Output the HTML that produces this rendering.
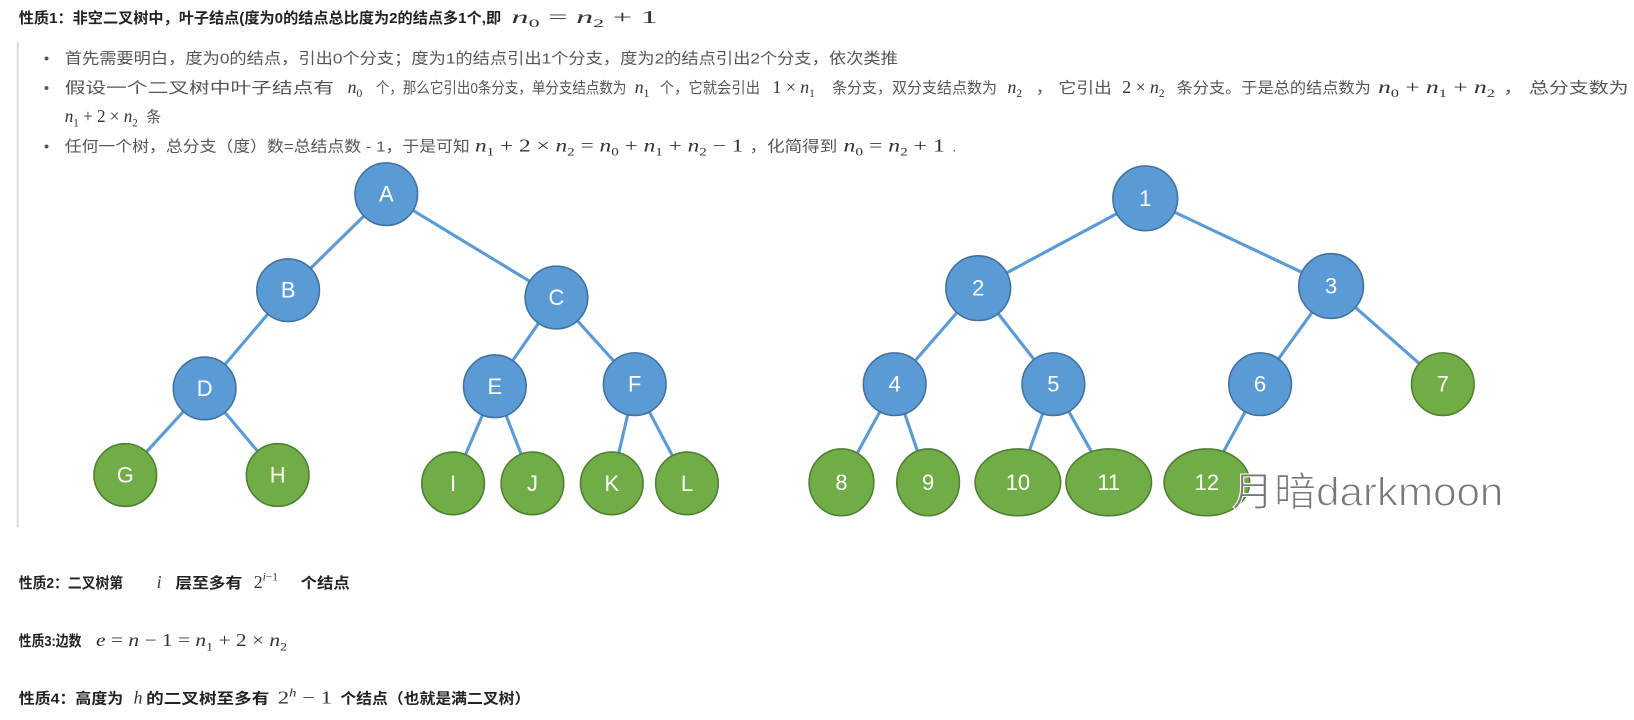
<!DOCTYPE html>
<html><head><meta charset="utf-8"><style>
html,body{margin:0;padding:0;background:#fff;width:1634px;height:720px;overflow:hidden}
svg{display:block}
.t{font-family:"Liberation Sans","Noto Sans CJK SC",sans-serif;font-size:14.5px;fill:#555}
.b{font-family:"Liberation Sans","Noto Sans CJK SC",sans-serif;font-size:14px;font-weight:bold;fill:#222}
.m{font-family:"Liberation Serif",serif;font-size:17px;fill:#333}
.mi{font-style:italic}
.n{font-family:"Liberation Sans",sans-serif;font-size:21px;fill:#fff;text-anchor:middle;dominant-baseline:central}
</style></head><body>
<svg width="1634" height="720" xmlns="http://www.w3.org/2000/svg">
<g transform="scale(1.044)">
<text x="18" y="22" class="b" textLength="462" lengthAdjust="spacingAndGlyphs">性质1：非空二叉树中，叶子结点(度为0的结点总比度为2的结点多1个,即</text>
<text x="490" y="22" class="m" textLength="140" lengthAdjust="spacingAndGlyphs"><tspan class="mi">n</tspan><tspan font-size="11" dy="4">0</tspan><tspan dy="-4"> = </tspan><tspan class="mi">n</tspan><tspan font-size="11" dy="4">2</tspan><tspan dy="-4"> + 1</tspan></text>
<rect x="16" y="40" width="2" height="465" fill="#ddd"/>

<text x="42" y="61" class="t">•</text>
<text x="62" y="61" class="t" textLength="798" lengthAdjust="spacingAndGlyphs">首先需要明白，度为0的结点，引出0个分支；度为1的结点引出1个分支，度为2的结点引出2个分支，依次类推</text>

<text x="42" y="89" class="t">•</text>
<text x="62" y="89" class="t" textLength="258" lengthAdjust="spacingAndGlyphs">假设一个二叉树中叶子结点有</text>
<text x="333" y="89" class="m"><tspan class="mi">n</tspan><tspan font-size="11" dy="4">0</tspan></text>
<text x="360" y="89" class="t" textLength="240" lengthAdjust="spacingAndGlyphs">个，那么它引出0条分支，单分支结点数为</text>
<text x="608" y="89" class="m"><tspan class="mi">n</tspan><tspan font-size="11" dy="4">1</tspan></text>
<text x="632" y="89" class="t" textLength="96" lengthAdjust="spacingAndGlyphs">个，它就会引出</text>
<text x="740" y="89" class="m">1 × <tspan class="mi">n</tspan><tspan font-size="11" dy="4">1</tspan></text>
<text x="797" y="89" class="t" textLength="158" lengthAdjust="spacingAndGlyphs">条分支，双分支结点数为</text>
<text x="965" y="89" class="m"><tspan class="mi">n</tspan><tspan font-size="11" dy="4">2</tspan></text>
<text x="992" y="89" class="t" textLength="73" lengthAdjust="spacingAndGlyphs">， 它引出</text>
<text x="1075" y="89" class="m">2 × <tspan class="mi">n</tspan><tspan font-size="11" dy="4">2</tspan></text>
<text x="1127" y="89" class="t" textLength="186" lengthAdjust="spacingAndGlyphs">条分支。于是总的结点数为</text>
<text x="1320" y="89" class="m" textLength="112" lengthAdjust="spacingAndGlyphs"><tspan class="mi">n</tspan><tspan font-size="11" dy="4">0</tspan><tspan dy="-4"> + </tspan><tspan class="mi">n</tspan><tspan font-size="11" dy="4">1</tspan><tspan dy="-4"> + </tspan><tspan class="mi">n</tspan><tspan font-size="11" dy="4">2</tspan></text>
<text x="1440" y="89" class="t" textLength="120" lengthAdjust="spacingAndGlyphs">， 总分支数为</text>
<text x="62" y="117" class="m" textLength="70" lengthAdjust="spacingAndGlyphs"><tspan class="mi">n</tspan><tspan font-size="11" dy="4">1</tspan><tspan dy="-4"> + 2 × </tspan><tspan class="mi">n</tspan><tspan font-size="11" dy="4">2</tspan></text>
<text x="140" y="117" class="t">条</text>

<text x="42" y="145" class="t">•</text>
<text x="62" y="145" class="t" textLength="388" lengthAdjust="spacingAndGlyphs">任何一个树，总分支（度）数=总结点数 - 1，于是可知</text>
<text x="455" y="145" class="m" textLength="257" lengthAdjust="spacingAndGlyphs"><tspan class="mi">n</tspan><tspan font-size="11" dy="4">1</tspan><tspan dy="-4"> + 2 × </tspan><tspan class="mi">n</tspan><tspan font-size="11" dy="4">2</tspan><tspan dy="-4"> = </tspan><tspan class="mi">n</tspan><tspan font-size="11" dy="4">0</tspan><tspan dy="-4"> + </tspan><tspan class="mi">n</tspan><tspan font-size="11" dy="4">1</tspan><tspan dy="-4"> + </tspan><tspan class="mi">n</tspan><tspan font-size="11" dy="4">2</tspan><tspan dy="-4"> − 1</tspan></text>
<text x="718" y="145" class="t" textLength="84" lengthAdjust="spacingAndGlyphs">，化简得到</text>
<text x="808" y="145" class="m" textLength="97" lengthAdjust="spacingAndGlyphs"><tspan class="mi">n</tspan><tspan font-size="11" dy="4">0</tspan><tspan dy="-4"> = </tspan><tspan class="mi">n</tspan><tspan font-size="11" dy="4">2</tspan><tspan dy="-4"> + 1</tspan></text>
<text x="912" y="145" class="t">.</text>

<g stroke="#5b9bd5" stroke-width="3">
<line x1="370" y1="186" x2="276" y2="278"/><line x1="370" y1="186" x2="533" y2="285"/>
<line x1="276" y1="278" x2="196" y2="372"/><line x1="533" y1="285" x2="474" y2="370"/><line x1="533" y1="285" x2="608" y2="368"/>
<line x1="196" y1="372" x2="120" y2="455"/><line x1="196" y1="372" x2="266" y2="455"/>
<line x1="474" y1="370" x2="434" y2="463"/><line x1="474" y1="370" x2="510" y2="463"/>
<line x1="608" y1="368" x2="586" y2="463"/><line x1="608" y1="368" x2="658" y2="463"/>
<line x1="1097" y1="190" x2="937" y2="276"/><line x1="1097" y1="190" x2="1275" y2="274"/>
<line x1="937" y1="276" x2="857" y2="368"/><line x1="937" y1="276" x2="1009" y2="368"/>
<line x1="1275" y1="274" x2="1207" y2="368"/><line x1="1275" y1="274" x2="1382" y2="368"/>
<line x1="857" y1="368" x2="806" y2="462"/><line x1="857" y1="368" x2="889" y2="462"/>
<line x1="1009" y1="368" x2="975" y2="462"/><line x1="1009" y1="368" x2="1062" y2="462"/>
<line x1="1207" y1="368" x2="1156" y2="462"/>
</g>
<g stroke="#41719c" stroke-width="1.5" fill="#5b9bd5">
<circle cx="370" cy="186" r="30"/><circle cx="276" cy="278" r="30"/><circle cx="533" cy="285" r="30"/>
<circle cx="196" cy="372" r="30"/><circle cx="474" cy="370" r="30"/><circle cx="608" cy="368" r="30"/>
<circle cx="1097" cy="190" r="31"/><circle cx="937" cy="276" r="31"/><circle cx="1275" cy="274" r="31"/>
<circle cx="857" cy="368" r="30"/><circle cx="1009" cy="368" r="30"/><circle cx="1207" cy="368" r="30"/>
</g>
<g stroke="#507e32" stroke-width="1.5" fill="#70ad47">
<circle cx="120" cy="455" r="30"/><circle cx="266" cy="455" r="30"/>
<circle cx="434" cy="463" r="30"/><circle cx="510" cy="463" r="30"/><circle cx="586" cy="463" r="30"/><circle cx="658" cy="463" r="30"/>
<circle cx="1382" cy="368" r="30"/>
<ellipse cx="806" cy="462" rx="31" ry="32"/><ellipse cx="889" cy="462" rx="30" ry="32"/>
<ellipse cx="975" cy="462" rx="41" ry="32"/><ellipse cx="1062" cy="462" rx="41" ry="32"/><ellipse cx="1156" cy="462" rx="41" ry="32"/>
</g>
<text x="370" y="186" class="n">A</text><text x="276" y="278" class="n">B</text><text x="533" y="285" class="n">C</text>
<text x="196" y="372" class="n">D</text><text x="474" y="370" class="n">E</text><text x="608" y="368" class="n">F</text>
<text x="120" y="455" class="n">G</text><text x="266" y="455" class="n">H</text><text x="434" y="463" class="n">I</text>
<text x="510" y="463" class="n">J</text><text x="586" y="463" class="n">K</text><text x="658" y="463" class="n">L</text>
<text x="1097" y="190" class="n">1</text><text x="937" y="276" class="n">2</text><text x="1275" y="274" class="n">3</text>
<text x="857" y="368" class="n">4</text><text x="1009" y="368" class="n">5</text><text x="1207" y="368" class="n">6</text>
<text x="1382" y="368" class="n">7</text><text x="806" y="462" class="n">8</text><text x="889" y="462" class="n">9</text>
<text x="975" y="462" class="n">10</text><text x="1062" y="462" class="n">11</text><text x="1156" y="462" class="n">12</text>
<text x="1180" y="484" font-family="Liberation Sans,'Noto Sans CJK SC',sans-serif" font-size="38" fill="#777" stroke="#fff" stroke-width="1" textLength="260" lengthAdjust="spacingAndGlyphs">月暗darkmoon</text>

<text x="18" y="563" class="b" textLength="100" lengthAdjust="spacingAndGlyphs">性质2：二叉树第</text>
<text x="150" y="563" class="m mi">i</text>
<text x="168" y="563" class="b" textLength="64" lengthAdjust="spacingAndGlyphs">层至多有</text>
<text x="243" y="563" class="m">2<tspan font-size="11" dy="-7" class="mi">i</tspan><tspan font-size="11">−1</tspan></text>
<text x="288" y="563" class="b" textLength="47" lengthAdjust="spacingAndGlyphs">个结点</text>
<text x="18" y="619" class="b" textLength="60" lengthAdjust="spacingAndGlyphs">性质3:边数</text>
<text x="92" y="619" class="m" textLength="183" lengthAdjust="spacingAndGlyphs"><tspan class="mi">e</tspan> = <tspan class="mi">n</tspan> − 1 = <tspan class="mi">n</tspan><tspan font-size="11" dy="4">1</tspan><tspan dy="-4"> + 2 × </tspan><tspan class="mi">n</tspan><tspan font-size="11" dy="4">2</tspan></text>
<text x="18" y="674" class="b" textLength="100" lengthAdjust="spacingAndGlyphs">性质4：高度为</text>
<text x="128" y="674" class="m mi">h</text>
<text x="140" y="674" class="b" textLength="118" lengthAdjust="spacingAndGlyphs">的二叉树至多有</text>
<text x="266" y="674" class="m" textLength="52" lengthAdjust="spacingAndGlyphs">2<tspan font-size="11" dy="-7" class="mi">h</tspan><tspan dy="7"> − 1</tspan></text>
<text x="326" y="674" class="b" textLength="182" lengthAdjust="spacingAndGlyphs">个结点（也就是满二叉树）</text>
</g>
</svg>
</body></html>
